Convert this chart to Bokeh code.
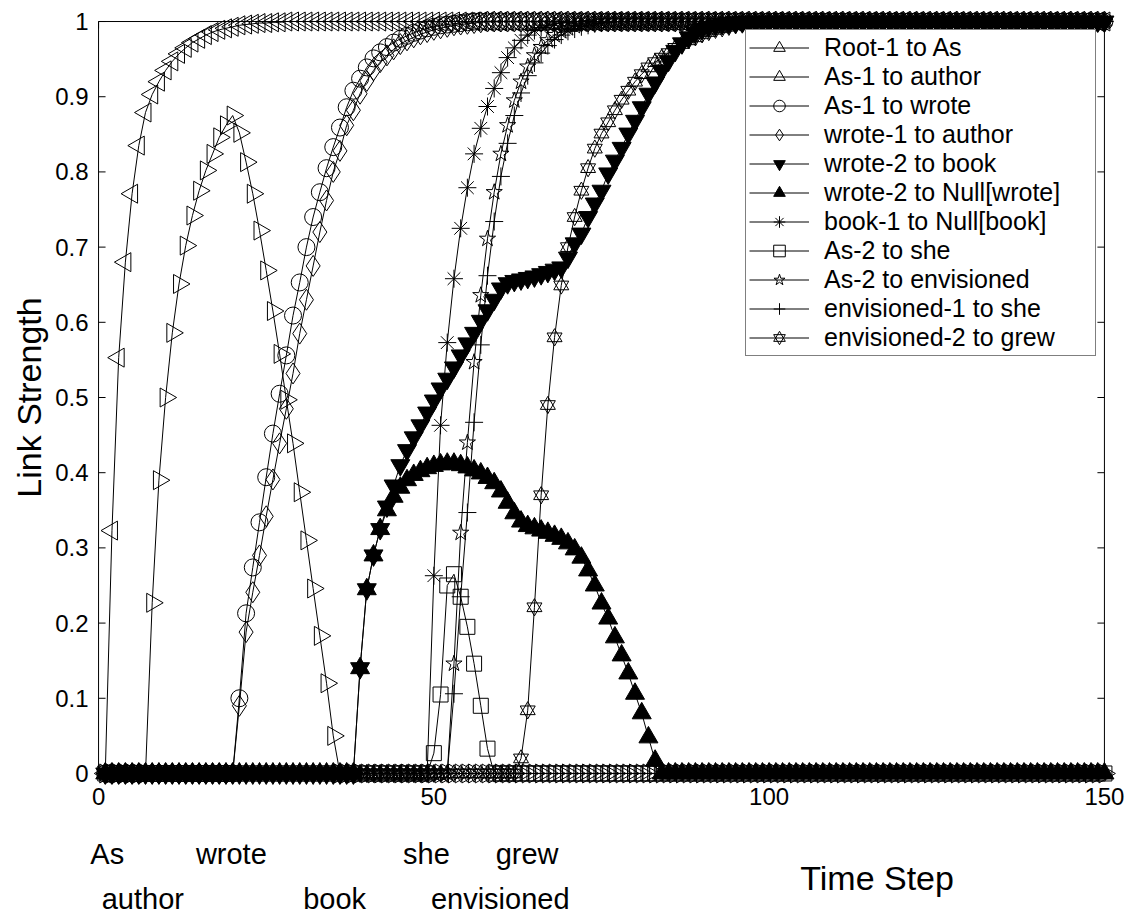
from bokeh.plotting import figure
from bokeh.layouts import column
from bokeh.models import Range1d, FixedTicker, Legend, LegendItem
from bokeh.core.properties import value
from bokeh.embed import file_html
from bokeh.resources import INLINE

FONT = "Liberation Sans"

# ---------------- data ----------------
time_steps = list(range(1, 151))

root1_to_as = [0.0, 0.323, 0.553, 0.68, 0.771, 0.835, 0.879, 0.903, 0.92, 0.935, 0.947, 0.957,
               0.965, 0.972, 0.977, 0.982, 0.986, 0.989, 0.991, 0.993, 0.995, 0.996, 0.997,
               0.998, 0.998, 0.999, 0.999] + [1.0] * 123

as1_to_author = [0.0] * 7 + [0.227, 0.39, 0.50, 0.586, 0.651, 0.702, 0.742, 0.775, 0.802, 0.824,
                             0.846, 0.862, 0.875, 0.852, 0.813, 0.771, 0.722, 0.669, 0.615, 0.558,
                             0.497, 0.439, 0.374, 0.31, 0.246, 0.183, 0.12, 0.05] + [0.0] * 115

as1_to_wrote = [0.0] * 20 + [0.10, 0.213, 0.274, 0.334, 0.394, 0.452, 0.505, 0.556, 0.609, 0.653,
                             0.70, 0.74, 0.773, 0.805, 0.833, 0.859, 0.886, 0.908, 0.924, 0.939,
                             0.951, 0.959, 0.966, 0.972, 0.977, 0.981, 0.985, 0.988, 0.991, 0.993,
                             0.995, 0.996, 0.997, 0.998, 0.999] + [1.0] * 95

wrote1_to_author = [0.0] * 20 + [0.09, 0.188, 0.241, 0.29, 0.342, 0.391, 0.439, 0.485, 0.532, 0.585,
                                 0.63, 0.675, 0.72, 0.762, 0.80, 0.828, 0.862, 0.882, 0.904, 0.921,
                                 0.935, 0.946, 0.955, 0.963, 0.97, 0.975, 0.979, 0.983, 0.986, 0.989,
                                 0.991, 0.993, 0.995, 0.996, 0.997, 0.998, 0.999] + [1.0] * 93

wrote2_to_book = [0.0] * 38 + [0.14, 0.245, 0.29, 0.325, 0.355, 0.383, 0.41, 0.43, 0.447, 0.463,
                               0.48, 0.496, 0.512, 0.525, 0.54, 0.556, 0.572, 0.586, 0.602, 0.616,
                               0.63, 0.645, 0.652, 0.655, 0.657, 0.659, 0.661, 0.664, 0.667, 0.67,
                               0.673, 0.686, 0.705, 0.718, 0.74, 0.758, 0.775, 0.798, 0.815, 0.832,
                               0.851, 0.868, 0.886, 0.904, 0.919, 0.935, 0.948, 0.961, 0.971, 0.979,
                               0.985, 0.99, 0.993, 0.995, 0.997, 0.998, 0.999] + [1.0] * 55

wrote2_to_null = [0.0] * 38 + [0.14, 0.245, 0.29, 0.325, 0.35, 0.368, 0.38, 0.39, 0.397, 0.402,
                               0.406, 0.409, 0.411, 0.412, 0.412, 0.41, 0.407, 0.403, 0.399, 0.393,
                               0.386, 0.375, 0.36, 0.346, 0.335, 0.329, 0.326, 0.323, 0.32, 0.316,
                               0.312, 0.306, 0.298, 0.287, 0.27, 0.25, 0.226, 0.206, 0.181, 0.157,
                               0.133, 0.106, 0.08, 0.048, 0.017] + [0.0] * 67

book1_to_null = [0.0] * 49 + [0.263, 0.463, 0.573, 0.658, 0.725, 0.779, 0.824, 0.858, 0.887, 0.911,
                              0.932, 0.952, 0.965, 0.975, 0.982, 0.988, 0.992, 0.995, 0.997, 0.998,
                              0.999] + [1.0] * 80

as2_to_she = [0.0] * 49 + [0.027, 0.105, 0.25, 0.265, 0.235, 0.195, 0.146, 0.09, 0.033] + [0.0] * 92

as2_to_envisioned = [0.0] * 52 + [0.146, 0.32, 0.44, 0.547, 0.636, 0.711, 0.773, 0.824, 0.862, 0.895,
                                  0.92, 0.94, 0.955, 0.966, 0.975, 0.982, 0.987, 0.991, 0.994, 0.996,
                                  0.998, 0.999] + [1.0] * 76

envisioned1_to_she = [0.0] * 52 + [0.106, 0.235, 0.347, 0.467, 0.57, 0.662, 0.734, 0.794, 0.838, 0.875,
                                   0.905, 0.928, 0.945, 0.958, 0.968, 0.976, 0.982, 0.987, 0.99, 0.993,
                                   0.995, 0.997, 0.998, 0.999] + [1.0] * 74

envisioned2_to_grew = [0.0] * 62 + [0.02, 0.084, 0.221, 0.37, 0.49, 0.58, 0.649, 0.70, 0.74, 0.775,
                                    0.805, 0.831, 0.851, 0.866, 0.882, 0.896, 0.908, 0.92, 0.93, 0.939,
                                    0.946, 0.952, 0.958, 0.965, 0.97, 0.975, 0.979, 0.983, 0.986, 0.989,
                                    0.991, 0.993, 0.995, 0.996, 0.997, 0.998, 0.999] + [1.0] * 51

series_labels = ["Root-1 to As", "As-1 to author", "As-1 to wrote", "wrote-1 to author",
                 "wrote-2 to book", "wrote-2 to Null[wrote]", "book-1 to Null[book]",
                 "As-2 to she", "As-2 to envisioned", "envisioned-1 to she", "envisioned-2 to grew"]
series_values = [root1_to_as, as1_to_author, as1_to_wrote, wrote1_to_author, wrote2_to_book,
                 wrote2_to_null, book1_to_null, as2_to_she, as2_to_envisioned,
                 envisioned1_to_she, envisioned2_to_grew]

x_ticks = [0, 50, 100, 150]
x_tick_labels = ["0", "50", "100", "150"]
y_ticks = [0, 0.1, 0.2, 0.3, 0.4, 0.5, 0.6, 0.7, 0.8, 0.9, 1]
y_tick_labels = ["0", "0.1", "0.2", "0.3", "0.4", "0.5", "0.6", "0.7", "0.8", "0.9", "1"]
x_limits = (0, 150)
y_limits = (0, 1)

words_row1 = ["As", "wrote", "she", "grew"]
words_row2 = ["author", "book", "envisioned"]
x_title = "Time Step"
y_title = "Link Strength"

for v in series_values:
    if len(v) != len(time_steps):
        raise ValueError("length mismatch %d" % len(v))

# ---------------- styles / layout ----------------
marker_styles = [
    ([("triangle", 19, 90)], False),
    ([("triangle", 19, -90)], False),
    ([("circle", 17, 0)], False),
    ([("diamond", 21, 0)], False),
    ([("inverted_triangle", 19, 0)], True),
    ([("triangle", 19, 0)], True),
    ([("asterisk", 18, 0)], False),
    ([("square", 15, 0)], False),
    ([("star", 17, 0)], False),
    ([("cross", 18, 0)], False),
    ([("triangle", 15, 0), ("inverted_triangle", 15, 0)], False),
]

W = 1130
H_MAIN = 822
H_WORDS = 913 - H_MAIN
FRAME_L, FRAME_R, FRAME_T, FRAME_B = 88, 1116, 9, 785
X_LO, X_HI = -1.5, 151.8
Y_LO, Y_HI = -0.016, 1.016
px_per_x = (FRAME_R - FRAME_L) / (X_HI - X_LO)
px_per_y = (FRAME_B - FRAME_T) / (Y_HI - Y_LO)
TICK_PX = 7
tick_dx = TICK_PX / px_per_x
tick_dy = TICK_PX / px_per_y

p = figure(width=W, height=H_MAIN, output_backend="svg", toolbar_location=None,
           x_range=Range1d(X_LO, X_HI), y_range=Range1d(Y_LO, Y_HI),
           min_border_left=FRAME_L, min_border_right=W - FRAME_R,
           min_border_top=FRAME_T, min_border_bottom=H_MAIN - FRAME_B,
           background_fill_color="white", border_fill_color="white")
p.outline_line_color = None
p.xgrid.visible = False
p.ygrid.visible = False

# axes box (drawn at the axis limits) and inward ticks on all four sides
p.quad(left=[x_limits[0]], right=[x_limits[1]], bottom=[y_limits[0]], top=[y_limits[1]],
       fill_color=None, line_color="black", line_width=1)
p.segment(x0=[x_limits[0]] * len(y_ticks), x1=[x_limits[0] + tick_dx] * len(y_ticks),
          y0=y_ticks, y1=y_ticks, line_color="black", line_width=1)
p.segment(x0=[x_limits[1]] * len(y_ticks), x1=[x_limits[1] - tick_dx] * len(y_ticks),
          y0=y_ticks, y1=y_ticks, line_color="black", line_width=1)
p.segment(x0=x_ticks, x1=x_ticks, y0=[y_limits[0]] * len(x_ticks),
          y1=[y_limits[0] + tick_dy] * len(x_ticks), line_color="black", line_width=1)
p.segment(x0=x_ticks, x1=x_ticks, y0=[y_limits[1]] * len(x_ticks),
          y1=[y_limits[1] - tick_dy] * len(x_ticks), line_color="black", line_width=1)

legend_items = []
for label, values, (mlist, filled) in zip(series_labels, series_values, marker_styles):
    rs = [p.line(time_steps, values, line_color="black", line_width=1)]
    for (mk, sz, ang) in mlist:
        rs.append(p.scatter(time_steps, values, marker=mk, size=sz, angle=ang, angle_units="deg",
                            line_color="black", line_width=1,
                            fill_color="black" if filled else None))
    legend_items.append(LegendItem(label=label, renderers=rs))

for ax, ticks, labels in ((p.xaxis[0], x_ticks, x_tick_labels), (p.yaxis[0], y_ticks, y_tick_labels)):
    ax.ticker = FixedTicker(ticks=ticks, minor_ticks=[])
    ax.major_label_overrides = {t: s for t, s in zip(ticks, labels)}
    ax.axis_line_color = None
    ax.major_tick_line_color = None
    ax.minor_tick_line_color = None
    ax.major_tick_in = 0
    ax.major_tick_out = 0
    ax.major_label_text_font = FONT
    ax.major_label_text_font_size = "24px"
    ax.major_label_text_color = "black"

p.xaxis[0].major_label_standoff = 2
p.yaxis[0].major_label_standoff = 0
p.yaxis[0].axis_label = y_title
p.yaxis[0].axis_label_text_font = FONT
p.yaxis[0].axis_label_text_font_size = "34px"
p.yaxis[0].axis_label_text_font_style = "normal"
p.yaxis[0].axis_label_text_color = "black"
p.yaxis[0].axis_label_standoff = 4

legend = Legend(items=legend_items, location="top_right", margin=20,
                label_text_font=FONT, label_text_font_size="25px", label_text_color="black",
                glyph_width=60, glyph_height=29, spacing=0, padding=3, label_standoff=15,
                label_width=268, border_line_color="black", border_line_width=1,
                background_fill_color="white", background_fill_alpha=1.0)
p.add_layout(legend, "center")

# ---------------- strip below the axes with the word labels ----------------
# column() aligns the frames, so the strip shares the main plot's horizontal scale
q = figure(width=W, height=H_WORDS, output_backend="svg", toolbar_location=None,
           x_range=p.x_range, y_range=Range1d(0, H_WORDS),
           min_border_left=FRAME_L, min_border_right=W - FRAME_R, min_border_top=0,
           min_border_bottom=0, x_axis_type=None, y_axis_type=None,
           background_fill_color="white", border_fill_color="white")
q.outline_line_color = None
q.xgrid.visible = False
q.ygrid.visible = False

row1_x = [1.3, 19.8, 48.9, 63.9]
row2_x = [6.6, 35.2, 59.9]
row1_y, row2_y, title_y = 60, 15, 36
q.text(x=row1_x, y=[row1_y] * len(words_row1), text=words_row1, text_font=value(FONT),
       text_font_size="29px", text_align="center", text_baseline="alphabetic", text_color="black")
q.text(x=row2_x, y=[row2_y] * len(words_row2), text=words_row2, text_font=value(FONT),
       text_font_size="29px", text_align="center", text_baseline="alphabetic", text_color="black")
q.text(x=[116.1], y=[title_y], text=[x_title], text_font=value(FONT),
       text_font_size="34px", text_align="center", text_baseline="alphabetic", text_color="black")

layout = column(p, q, spacing=0)
open("out.html", "w").write(file_html(layout, INLINE))
